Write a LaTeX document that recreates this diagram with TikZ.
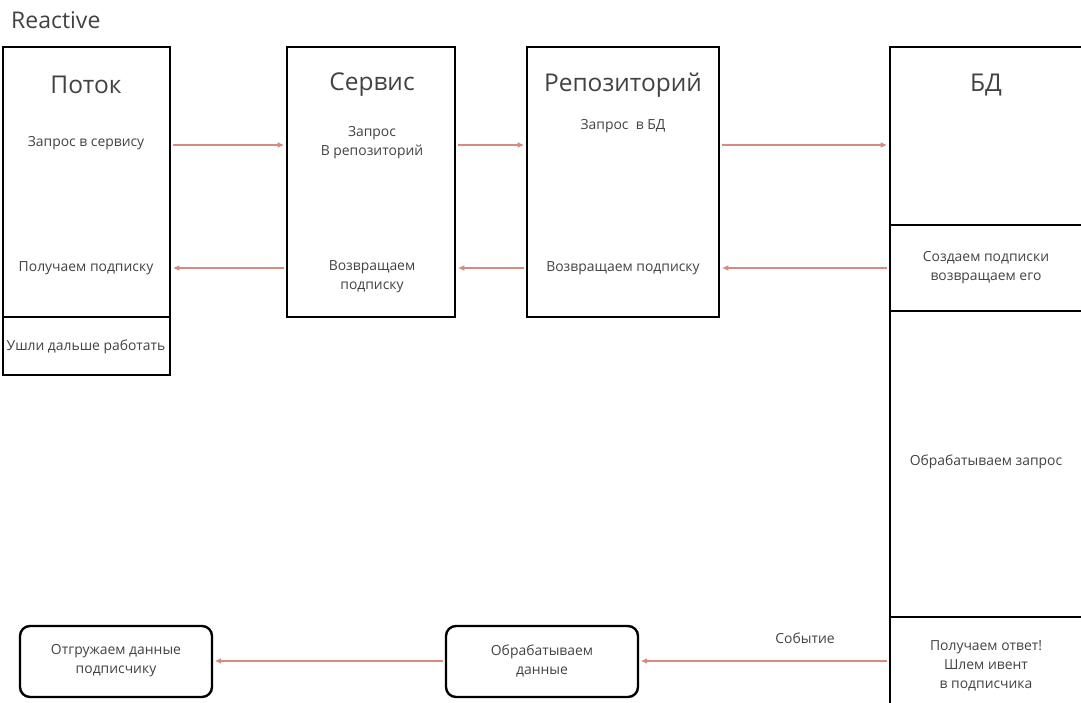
\documentclass[tikz,border=0pt]{standalone}
\usepackage{fontspec}
\setmainfont{Open Sans}
\usetikzlibrary{arrows.meta}
\definecolor{txt}{HTML}{424242}
\definecolor{arrc}{HTML}{D98A80}
\tikzset{
  box/.style={draw=black, line width=2.8pt, inner sep=0pt},
  rbox/.style={draw=black, line width=2.4pt, rounded corners=10pt, inner sep=0pt, minimum width=192pt, minimum height=71pt},
  title/.style={text=txt, font=\fontsize{24.5}{28}\selectfont, inner sep=0pt},
  label/.style={text=txt, font=\fontsize{13.9}{19}\selectfont, align=center, inner sep=0pt},
  arr/.style={draw=arrc, line width=1.3pt, -{Triangle[length=6pt,width=5pt]}, shorten >=2pt, shorten <=2pt}
}
\begin{document}
\begin{tikzpicture}[x=1pt,y=-1pt]
\useasboundingbox (0,0) rectangle (1081,703);
% header
\node[text=txt, font=\fontsize{23}{26}\selectfont, anchor=west, inner sep=0pt] (hdr) at (11,20) {Reactive};
% boxes
\node[box, minimum width=167pt, minimum height=270pt] (potok) at (86.5,182) {};
\node[box, minimum width=167pt, minimum height=58pt] (ushli) at (86.5,346) {};
\node[box, minimum width=168pt, minimum height=270pt] (servis) at (371,182) {};
\node[box, minimum width=192pt, minimum height=270pt] (repo) at (623,182) {};
\node[box, minimum width=192pt, minimum height=178pt] (bd1) at (986,136) {};
\node[box, minimum width=192pt, minimum height=86pt] (bd2) at (986,268) {};
\node[box, minimum width=192pt, minimum height=306pt] (bd3) at (986,464) {};
\node[box, minimum width=192pt, minimum height=95pt] (bd4) at (986,664.5) {};
\node[rbox] (otgr) at (116,661.5) {};
\node[rbox] (obrd) at (542,661.5) {};
% titles
\node[title] (tpotok) at (86,85) {Поток};
\node[title] (tservis) at (372,85) {Сервис};
\node[title] (trepo) at (623,85) {Репозиторий};
\node[title] (tbd) at (986,85) {БД};
% labels
\node[label] (l1) at (86,143) {Запрос в сервису};
\node[label] (l2) at (372,143) {Запрос\\В репозиторий};
\node[label] (l3) at (623,126) {Запрос\ \ в БД};
\node[label] (l4) at (86,268) {Получаем подписку};
\node[label] (l5) at (372,277) {Возвращаем\\подписку};
\node[label] (l6) at (623,268) {Возвращаем подписку};
\node[label] (l7) at (986,267.5) {Создаем подписки\\возвращаем его};
\node[label] (l8) at (986,462) {Обрабатываем запрос};
\node[label] (l9) at (986,665.5) {Получаем ответ!\\Шлем ивент\\в подписчика};
\node[label] (l10) at (86,347) {Ушли дальше работать};
\node[label] (l11) at (116,660.5) {Отгружаем данные\\подписчику};
\node[label] (l12) at (542,660.5) {Обрабатываем\\данные};
\node[label] (l13) at (805,638) {Событие};
% arrows
\coordinate (ra) at (0,145);
\coordinate (rb) at (0,268);
\coordinate (rc) at (0,661);
\draw[arr] (potok.east |- ra) -- (servis.west |- ra);
\draw[arr] (servis.east |- ra) -- (repo.west |- ra);
\draw[arr] (repo.east |- ra) -- (bd1.west |- ra);
\draw[arr] (bd2.west |- rb) -- (repo.east |- rb);
\draw[arr] (repo.west |- rb) -- (servis.east |- rb);
\draw[arr] (servis.west |- rb) -- (potok.east |- rb);
\draw[arr] (bd4.west |- rc) -- (obrd.east |- rc);
\draw[arr] (obrd.west |- rc) -- (otgr.east |- rc);
\end{tikzpicture}
\end{document}
